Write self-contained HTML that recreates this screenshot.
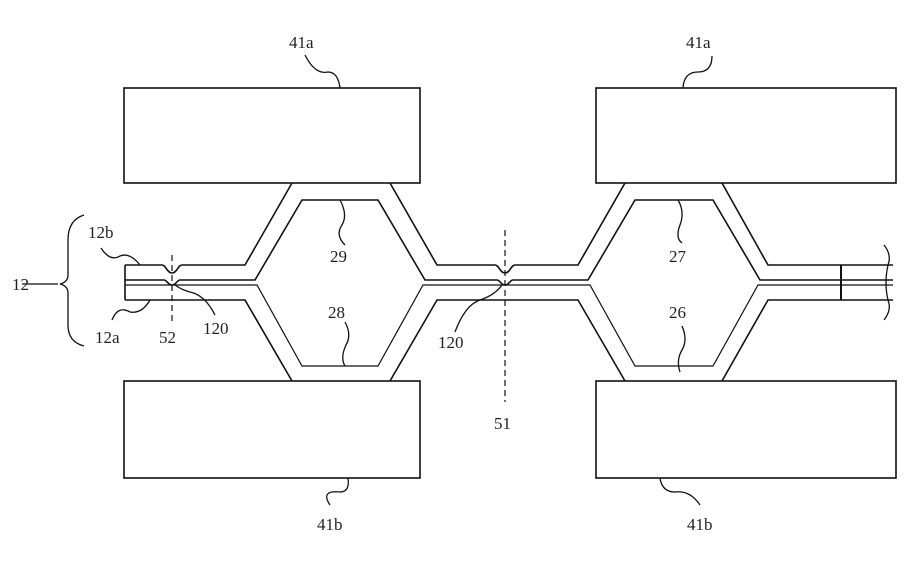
<!DOCTYPE html>
<html><head><style>body{margin:0;background:#fff}svg{display:block}text{font-family:"Liberation Serif",serif;font-size:17px;fill:#222}</style></head><body>
<svg width="912" height="565" viewBox="0 0 912 565" xmlns="http://www.w3.org/2000/svg">
<g fill="none" stroke="#111" stroke-width="1.6">
<rect x="124" y="88" width="296" height="95"/>
<rect x="596" y="88" width="300" height="95"/>
<rect x="124" y="381" width="296" height="97"/>
<rect x="596" y="381" width="300" height="97"/>
<path d="M125,265 H162 C166,265 167,273 172,273 C177,273 178,265 182,265 H245 L292,183 M390,183 L437,265 H495 C499,265 500,273 505,273 C510,273 511,265 515,265 H578 L625,183 M722,183 L768,265 H893"/>
<path d="M125,300 H245 L292,381 M390,381 L437,300 H578 L625,381 M722,381 L768,300 H893"/>
<path d="M125,265 V300"/>
<path d="M125,280 H164 C167,280 168,285 172,285 C176,285 177,280 180,280 H255 L302,200 H378 L425,280 H497 C500,280 501,285 505,285 C509,285 510,280 513,280 H588 L635,200 H713 L760,280 H893"/>
<path d="M125,285 H257 L302,366 H378 L423,285 H590 L635,366 H713 L758,285 H893" stroke-width="1.2"/>
<path d="M841,265 V300" stroke-width="2"/>
<path d="M884,245 Q892,255 888,265 Q884,283 888,300 Q892,310 884,320" stroke-width="1.3"/>
<path d="M84,215 Q68,220 68,240 V275 Q68,282 60,284 Q68,286 68,293 V325 Q68,342 84,346" stroke-width="1.3"/>
<path d="M22,284 H58" stroke-width="1.3"/>
<path d="M172,255 V322 M505,230 V402" stroke-dasharray="6,4" stroke-width="1.2"/>
<g stroke-width="1.3">
<path d="M305,55 Q315,75 328,72 Q338,72 340,88"/>
<path d="M712,56 Q712,72 698,72 Q684,72 683,88"/>
<path d="M330,505 Q320,490 340,492 Q350,492 348,478"/>
<path d="M700,505 Q690,490 675,492 Q662,492 660,478"/>
<path d="M101,248 Q110,262 120,256 Q130,252 140,265"/>
<path d="M112,320 Q118,305 130,312 Q142,314 150,300"/>
<path d="M215,315 Q205,295 190,292 Q182,290 175,285"/>
<path d="M455,332 Q465,305 480,300 Q495,295 502,285"/>
<path d="M340,200 Q348,215 342,225 Q335,235 345,245"/>
<path d="M345,322 Q352,335 346,345 Q340,358 345,366"/>
<path d="M678,200 Q685,212 680,225 Q675,238 682,243"/>
<path d="M682,326 Q688,340 682,350 Q676,360 680,372"/>
</g>
</g>
<text x="289" y="48">41a</text>
<text x="686" y="48">41a</text>
<text x="317" y="530">41b</text>
<text x="687" y="530">41b</text>
<text x="88" y="238">12b</text>
<text x="12" y="290">12</text>
<text x="95" y="343">12a</text>
<text x="159" y="343">52</text>
<text x="203" y="334">120</text>
<text x="330" y="262">29</text>
<text x="328" y="318">28</text>
<text x="438" y="348">120</text>
<text x="494" y="429">51</text>
<text x="669" y="262">27</text>
<text x="669" y="318">26</text>
</svg>
</body></html>
